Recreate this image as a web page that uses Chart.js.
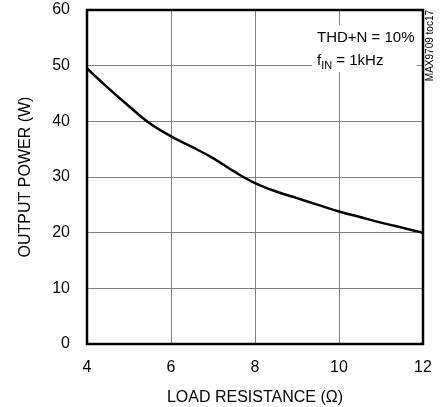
<!DOCTYPE html>
<html>
<head>
<meta charset="utf-8">
<script src="https://cdn.jsdelivr.net/npm/chart.js@4/dist/chart.umd.min.js"></script>
<style>
  html, body { margin: 0; padding: 0; background: #fff; }
  #wrap { width: 446px; height: 407px; position: relative; }
</style>
</head>
<body>
<div id="wrap"><canvas id="c"></canvas></div>
<script>
// load resistance (ohm) vs output power (W)
const resistance = [4, 4.5, 5, 5.5, 6, 6.5, 7, 7.5, 8, 8.5, 9, 9.5, 10, 10.5, 11, 11.5, 12]
const outputPower = [49.5, 46.0, 42.7, 39.6, 37.3, 35.4, 33.4, 31.0, 28.9, 27.4, 26.2, 25.0, 23.8, 22.8, 21.8, 20.9, 20.0]
const xTicks = [4, 6, 8, 10, 12]
const yTicks = [0, 10, 20, 30, 40, 50, 60]
const noteLines = ['THD+N = 10%', 'f', 'IN', ' = 1kHz']
const sideLabel = 'MAX9709 toc17'

const FONT = "'Liberation Sans', Arial, sans-serif"

const points = resistance.map((r, i) => ({ x: r, y: outputPower[i] }))

// frame + note box
const extras = {
  id: 'extras',
  beforeDatasetsDraw(chart) {
    const ctx = chart.ctx
    const a = chart.chartArea
    ctx.save()
    // white box behind the note
    ctx.fillStyle = '#fff'
    ctx.fillRect(a.right - 111, a.top + 15, 105, 47)
    ctx.fillStyle = '#000'
    ctx.textBaseline = 'middle'
    ctx.textAlign = 'left'
    ctx.font = '15px ' + FONT
    const tx = a.right - 106
    ctx.fillText(noteLines[0], tx, a.top + 28)
    ctx.fillText(noteLines[1], tx, a.top + 51)
    let w = ctx.measureText(noteLines[1]).width
    ctx.font = '11px ' + FONT
    ctx.fillText(noteLines[2], tx + w, a.top + 56)
    w += ctx.measureText(noteLines[2]).width
    ctx.font = '15px ' + FONT
    ctx.fillText(noteLines[3], tx + w, a.top + 51)
    ctx.restore()
  },
  afterDraw(chart) {
    const ctx = chart.ctx
    const a = chart.chartArea
    ctx.save()
    ctx.strokeStyle = '#000'
    ctx.lineWidth = 2.5
    ctx.strokeRect(a.left, a.top, a.right - a.left, a.bottom - a.top)
    // side label, reads bottom to top
    ctx.translate(a.right + 7, a.top)
    ctx.rotate(-Math.PI / 2)
    ctx.font = '10px ' + FONT
    ctx.fillStyle = '#000'
    ctx.textAlign = 'right'
    ctx.textBaseline = 'middle'
    ctx.fillText(sideLabel, 0, 0)
    ctx.restore()
  }
}

new Chart(document.getElementById('c'), {
  type: 'line',
  data: {
    datasets: [{
      data: points,
      borderColor: '#000',
      borderWidth: 2.5,
      pointRadius: 0,
      tension: 0.4,
      fill: false
    }]
  },
  options: {
    responsive: true,
    maintainAspectRatio: false,
    animation: false,
    layout: { padding: { top: 10, right: 23, bottom: 0, left: 16 } },
    plugins: {
      legend: { display: false },
      tooltip: { enabled: false }
    },
    scales: {
      x: {
        type: 'linear',
        min: 4,
        max: 12,
        afterBuildTicks(scale) { scale.ticks = xTicks.map(v => ({ value: v })) },
        afterFit(scale) { scale.height = 63; scale.paddingLeft = 0; scale.paddingRight = 0 },
        ticks: { color: '#000', font: { family: FONT, size: 16 }, padding: 14, maxRotation: 0 },
        grid: { color: '#808080', lineWidth: 1, drawTicks: false },
        border: { display: false },
        title: {
          display: true,
          text: 'LOAD RESISTANCE (Ω)',
          color: '#000',
          font: { family: FONT, size: 16 },
          padding: { top: 4, bottom: 0 }
        }
      },
      y: {
        min: 0,
        max: 60,
        afterBuildTicks(scale) { scale.ticks = yTicks.map(v => ({ value: v })) },
        afterFit(scale) { scale.width = 71; scale.paddingTop = 0; scale.paddingBottom = 0 },
        ticks: { color: '#000', font: { family: FONT, size: 16 }, padding: 17 },
        grid: { color: '#808080', lineWidth: 1, drawTicks: false },
        border: { display: false },
        title: {
          display: true,
          text: 'OUTPUT POWER (W)',
          color: '#000',
          font: { family: FONT, size: 16 },
          padding: { top: 0, bottom: 6 }
        }
      }
    }
  },
  plugins: [extras]
})
</script>
</body>
</html>
